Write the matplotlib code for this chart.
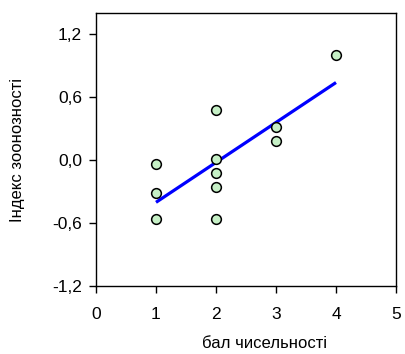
import numpy as np
import matplotlib
matplotlib.use("Agg")
import matplotlib.pyplot as plt

plt.rcParams['font.family'] = ['Liberation Sans', 'DejaVu Sans']

bal = [1, 1, 1, 2, 2, 2, 2, 2, 3, 3, 4]
index_zoo = [-0.04, -0.31, -0.56, 0.48, 0.01, -0.12, -0.26, -0.56, 0.31, 0.18, 1.0]
x_ticks = [0, 1, 2, 3, 4, 5]
y_ticks = [-1.2, -0.6, 0.0, 0.6, 1.2]
y_tick_labels = ["-1,2", "-0,6", "0,0", "0,6", "1,2"]

fig = plt.figure(figsize=(4.05, 3.54), dpi=100)
ax = fig.add_axes([96/405, 1-286/354, 300/405, 273/354])

xs = np.array(bal, dtype=float)
ys = np.array(index_zoo)
k, b = np.polyfit(xs, ys, 1)
xl = np.array([xs.min(), xs.max()])
ax.plot(xl, k*xl + b, color='#0000ff', lw=2.3, zorder=2, solid_capstyle='butt')
ax.plot(xs, ys, 'o', ms=7, mfc='#c6f0c6', mec='black', mew=1.1, zorder=3)

ax.set_xlim(0, 5)
ax.set_ylim(-1.2, 1.4)
ax.set_xticks(x_ticks)
ax.set_xticklabels([str(t) for t in x_ticks])
ax.set_yticks(y_ticks)
ax.set_yticklabels(y_tick_labels)
ax.tick_params(direction='out', length=5, width=1, labelsize=12.5)
ax.tick_params(axis='x', pad=10)
ax.tick_params(axis='y', pad=5)
for s in ax.spines.values():
    s.set_linewidth(1)

ax.set_xlabel("бал чисельності", fontsize=12)
ax.xaxis.set_label_coords(0.563, -0.183)
ax.set_ylabel("Індекс зоонозності", fontsize=12)
ax.yaxis.set_label_coords(-0.235, 0.5)

fig.savefig("out.png", dpi=100)
